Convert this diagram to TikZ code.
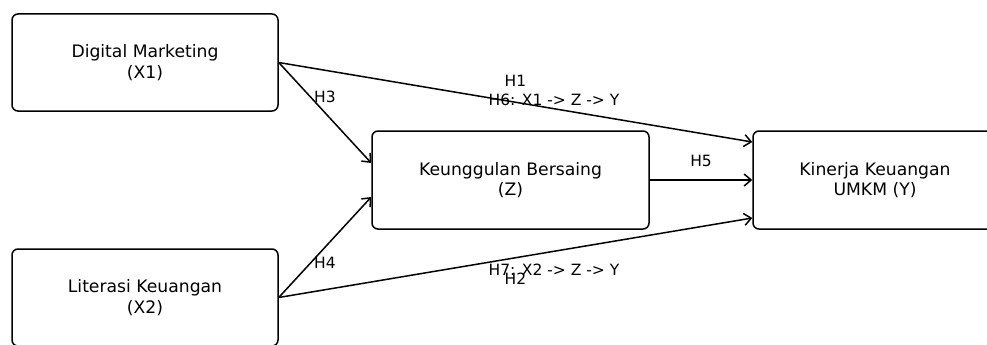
\documentclass[tikz,border=0pt]{standalone}
\usepackage{fontspec}
\setmainfont{DejaVu Sans}
\usetikzlibrary{arrows.meta}
\begin{document}
\begin{tikzpicture}[x=1pt,y=-1pt,
  varbox/.style={draw, line width=1.5pt, rounded corners=6pt, align=center,
    minimum width=266pt, minimum height=97pt, inner sep=0pt,
    font=\fontsize{17.2}{20.5}\selectfont},
  conn/.style={line width=1.5pt, -{Straight Barb[length=7pt,width=12pt,line width=1.5pt]}},
  hlab/.style={font=\fontsize{15.5}{18}\selectfont, inner sep=0pt}]
\clip (0,0) rectangle (987,345);
\useasboundingbox (0,0) rectangle (987,345);
\node[varbox] (X1) at (145,62.5) {Digital Marketing\\(X1)};
\node[varbox] (X2) at (145,297.5) {Literasi Keuangan\\(X2)};
\node[varbox, minimum width=277pt, minimum height=98pt] (Z) at (510.5,180) {Keunggulan Bersaing\\(Z)};
\node[varbox, minimum width=244pt, minimum height=98pt] (Y) at (875,180) {Kinerja Keuangan\\UMKM (Y)};
\draw[conn] (X1.east) -- node[hlab, pos=0.5, yshift=21pt] (h1) {H1} ([yshift=38pt]Y.west);
\draw[conn] (X2.east) -- node[hlab, pos=0.5, yshift=-21pt] (h2) {H2} ([yshift=-38pt]Y.west);
\draw[conn] (X1.east) -- node[hlab, pos=0.5, yshift=16pt] (h3) {H3} ([yshift=17pt]Z.west);
\draw[conn] (X2.east) -- node[hlab, pos=0.5, yshift=-16pt] (h4) {H4} ([yshift=-17pt]Z.west);
\draw[conn] (Z.east) -- node[hlab, pos=0.5, yshift=19pt] (h5) {H5} (Y.west);
\node[hlab] (h6) at (554,100) {H6: X1 -> Z -> Y};
\node[hlab] (h7) at (554,270) {H7: X2 -> Z -> Y};
\end{tikzpicture}
\end{document}
